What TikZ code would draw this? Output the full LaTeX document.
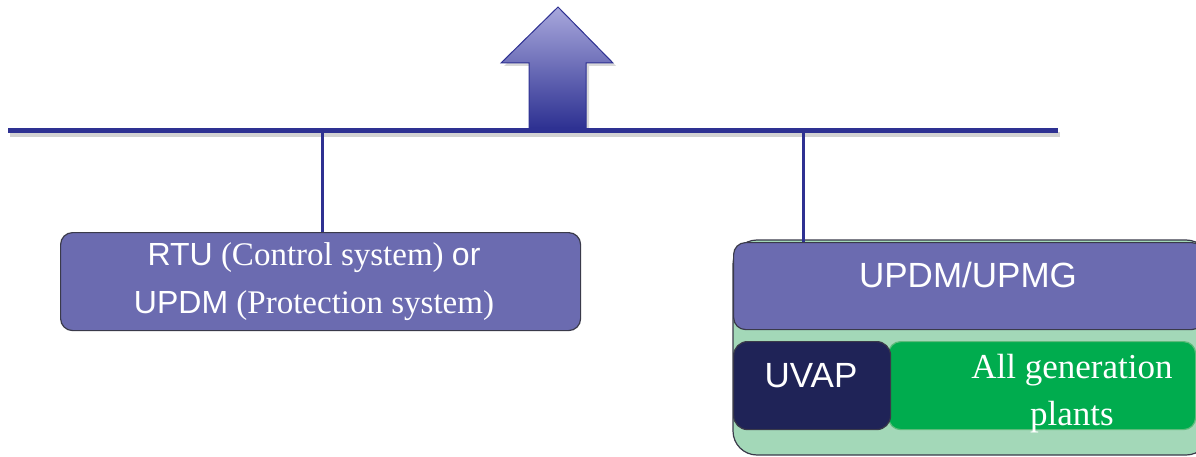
\documentclass[tikz,border=0pt]{standalone}
\usepackage{fontspec}
\setmainfont{Liberation Serif}
\setsansfont{Liberation Sans}
\definecolor{busblue}{HTML}{2E3192}
\definecolor{boxpurple}{HTML}{6B6BB0}
\definecolor{boxedge}{HTML}{3A3A4A}
\definecolor{navy}{HTML}{1F2357}
\definecolor{plantgreen}{HTML}{00AC4E}
\definecolor{plantedge}{HTML}{5DBB7A}
\definecolor{paleGreen}{HTML}{A3D8B8}
\definecolor{arrowtop}{HTML}{A8A8DC}
\tikzset{
  bus/.style={draw=busblue, line width=5pt},
  drop/.style={draw=busblue, line width=3pt},
  panel/.style={draw=boxedge, line width=1.2pt, fill=boxpurple, rounded corners=12pt},
  lbl/.style={text=white, inner sep=0pt, align=center},
}
\newcommand{\sansbig}[1]{{\sffamily\fontsize{32}{48}\selectfont #1}}
\begin{document}
\begin{tikzpicture}[x=1pt,y=-1pt]
\useasboundingbox (0,0) rectangle (1196,457);

% upward arrow above the bus
\fill[gray!30] (561,10) -- (616,66) -- (589,66) -- (589,131) -- (532,131) -- (532,66) -- (504,66) -- cycle;
\shade[top color=arrowtop, bottom color=busblue, draw=busblue, line width=1pt]
  (558,7) -- (613,63) -- (586,63) -- (586,128) -- (529,128) -- (529,63) -- (501,63) -- cycle;

% bus
\coordinate (busL) at (8,131);
\coordinate (busR) at (1058,131);
\draw[gray!35, line width=5pt] (10,135) -- (1060,135);
\draw[bus] (busL) -- (busR);

% left unit
\node[name=rtu, panel, minimum width=520pt, minimum height=98pt, anchor=north west] at (60,232) {};
\node[lbl, font=\fontsize{33}{48}\selectfont, anchor=base] at (314,313)
  {\sansbig{RTU} (Control system) \sansbig{or}\\
   \sansbig{UPDM} (Protection system)};

% right unit
\draw[draw=boxedge, line width=1.2pt, fill=paleGreen, rounded corners=24pt] (733,240) rectangle (1210,455);
\node[name=updm, panel, minimum width=470pt, minimum height=87pt, anchor=north west] at (733,242) {};
\node[lbl, font=\sffamily\fontsize{35}{40}\selectfont, anchor=base] at (968,287) {UPDM/UPMG};
\node[name=plants, draw=plantedge, line width=1.2pt, fill=plantgreen, rounded corners=12pt,
  minimum width=307pt, minimum height=88pt, anchor=north west] at (888,341) {};
\node[name=uvap, draw=boxedge, line width=1.2pt, fill=navy, rounded corners=14pt,
  minimum width=157pt, minimum height=88pt, anchor=north west] at (733,341) {};
\node[lbl, font=\sffamily\fontsize{35}{40}\selectfont, anchor=base] at (811,387) {UVAP};
\node[lbl, font=\fontsize{35}{47}\selectfont, anchor=base] at (1072,425) {All generation\\ plants};

% drops from the bus
\draw[drop] (rtu.north -| 322,0) -- (busL -| 322,0);
\draw[drop] (updm.north -| 803,0) -- (busL -| 803,0);
\end{tikzpicture}
\end{document}
